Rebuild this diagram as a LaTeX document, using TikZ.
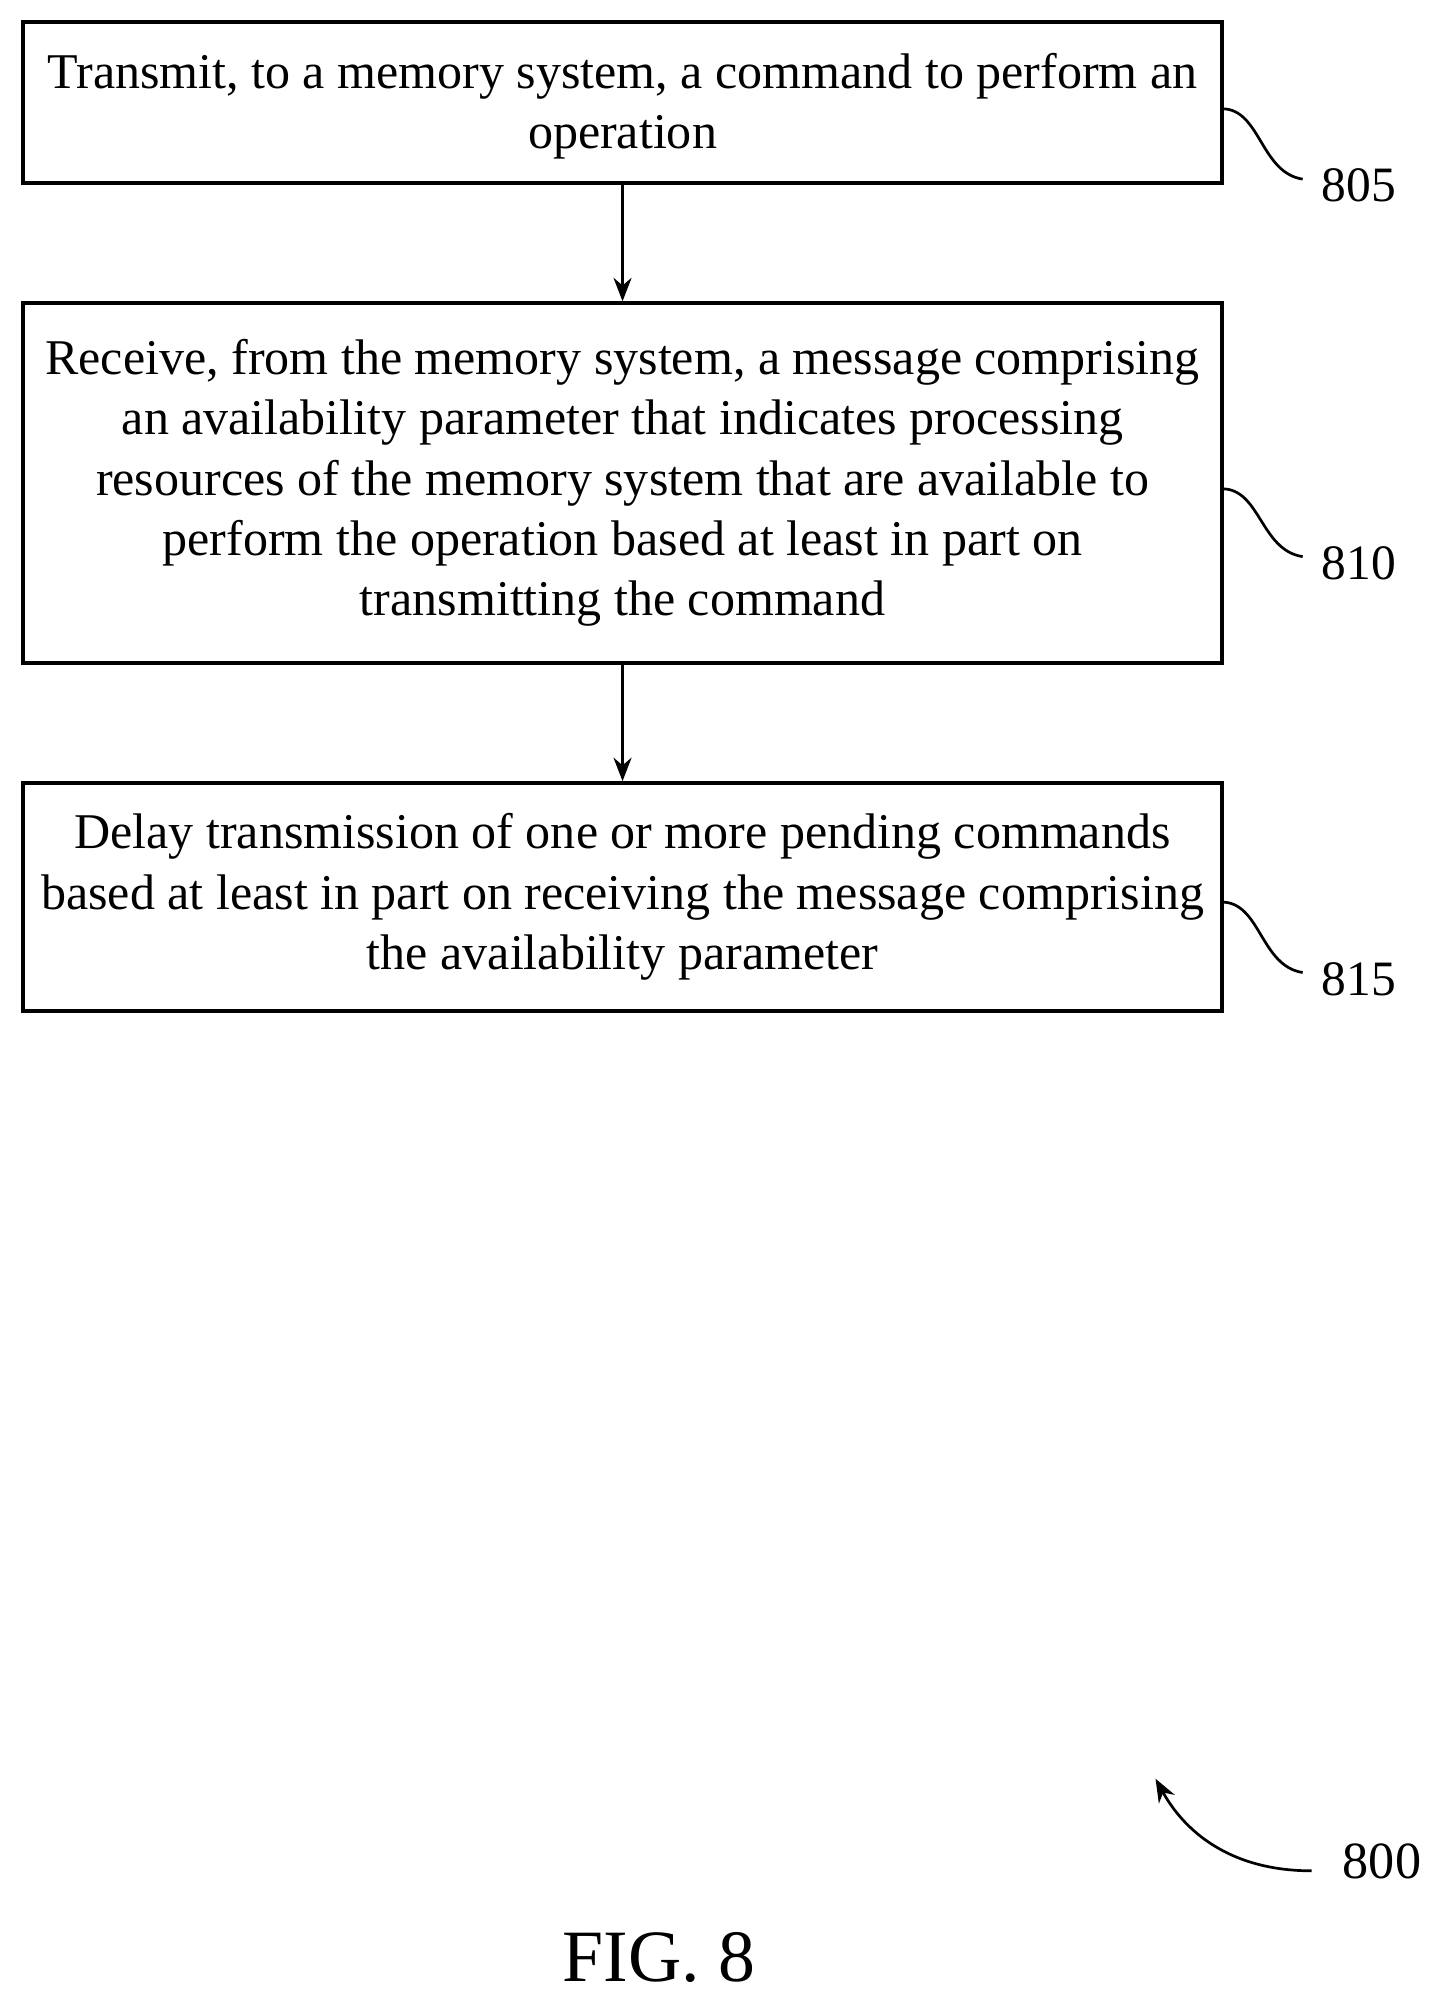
\documentclass[tikz,border=0pt]{standalone}
\usepackage{fontspec}
\setmainfont{Liberation Serif}
\usetikzlibrary{arrows.meta}
\begin{document}
\begin{tikzpicture}[x=0.025cm,y=-0.025cm,
  box/.style={draw,line width=2.2pt,minimum width=937*0.025cm,align=center,font=\fontsize{27.8}{33.5}\selectfont,inner sep=0pt},
  lbl/.style={font=\fontsize{27.5}{30}\selectfont},
  arr/.style={line width=1.8pt,-{Stealth[length=13pt,width=10pt]}},
  sq/.style={line width=1.5pt}]
\useasboundingbox (0,0) rectangle (1130,1570);
\node[box,minimum height=126*0.025cm] (b1) at (486.5,80) {\strut Transmit, to a memory system, a command to perform an\\operation};
\node[box,minimum height=281*0.025cm] (b2) at (486.5,377.5) {Receive, from the memory system, a message comprising\\an availability parameter that indicates processing\\resources of the memory system that are available to\\perform the operation based at least in part on\\transmitting the command};
\node[box,minimum height=178*0.025cm] (b3) at (486.5,701) {Delay transmission of one or more pending commands\\based at least in part on receiving the message comprising\\the availability parameter};
\draw[arr] (b1) -- (b2);
\draw[arr] (b2) -- (b3);
\node[lbl] (l1) at (1062,145) {805};
\node[lbl] (l2) at (1062,440) {810};
\node[lbl] (l3) at (1062,765) {815};
\coordinate (c1) at (955,85); \coordinate (c2) at (955,382); \coordinate (c3) at (955,705);
\draw[sq] (c1) .. controls (985,85) and (985,135) .. (1018,140);
\draw[sq] (c2) .. controls (985,382) and (985,430) .. (1018,435);
\draw[sq] (c3) .. controls (985,705) and (985,755) .. (1018,760);
\node[lbl,font=\fontsize{29}{30}\selectfont] (l0) at (1080,1455) {800};
\coordinate (a0) at (1025,1462);
\coordinate (a1) at (903,1390);
\draw[arr,line width=1.5pt] (a0) .. controls (960,1462) and (925,1430) .. (a1);
\node[font=\fontsize{41}{44}\selectfont] (fig) at (515,1530) {FIG. 8};
\end{tikzpicture}
\end{document}
